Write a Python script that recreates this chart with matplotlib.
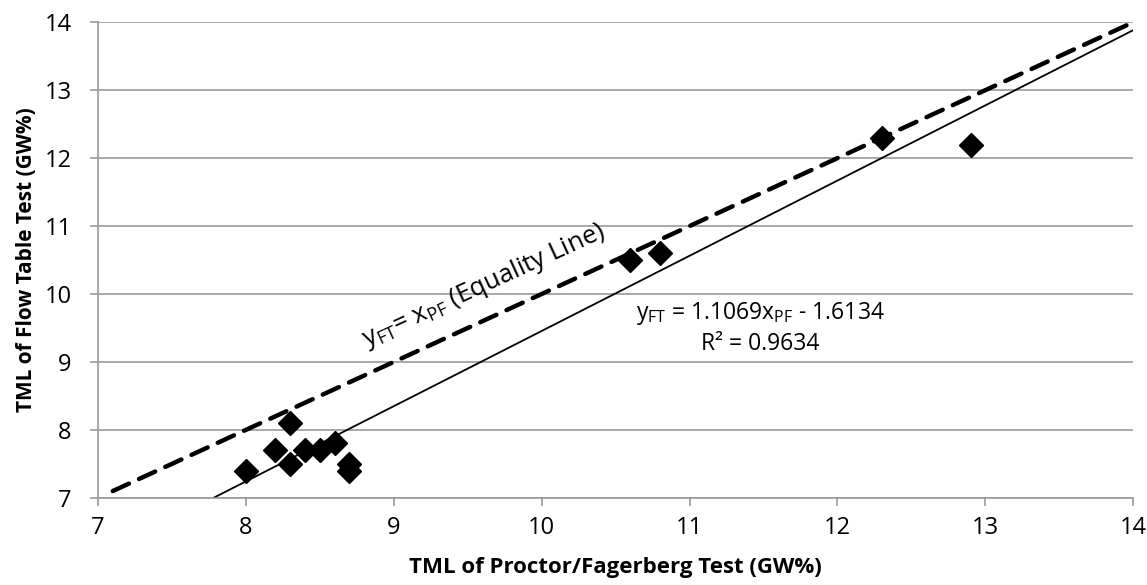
import matplotlib.pyplot as plt
import numpy as np

# TML values: Proctor/Fagerberg (x) vs Flow Table (y)
tml_pf = [8.0, 8.2, 8.3, 8.3, 8.4, 8.5, 8.6, 8.7, 8.7, 10.6, 10.8, 12.3, 12.9]
tml_ft = [7.4, 7.7, 8.1, 7.5, 7.7, 7.7, 7.8, 7.5, 7.4, 10.5, 10.6, 12.3, 12.2]

# linear fit reported on the chart
slope = 1.1069
intercept = -1.6134
r2 = 0.9634

plt.rcParams['font.family'] = ['Open Sans', 'DejaVu Sans']
plt.rcParams['mathtext.fontset'] = 'custom'
plt.rcParams['mathtext.rm'] = 'Open Sans'

fig = plt.figure(figsize=(11.47, 5.85), dpi=100)
ax = fig.add_axes([0.0854, 0.149, 0.9026, 0.813])

# equality line
xe = np.array([7.1, 14.0])
ax.plot(xe, xe, color='black', lw=3.2, ls=(0, (4, 2.5)), dash_capstyle='round', zorder=2)

# trend line
x0 = (7 - intercept) / slope
xt = np.array([x0, 14.0])
ax.plot(xt, slope * xt + intercept, color='black', lw=1.3, zorder=2)

ax.plot(tml_pf, tml_ft, ls='none', marker='D', markersize=12, color='black', zorder=3)

ax.text(9.61, 10.13, r'y$_{\mathregular{FT}}$= x$_{\mathregular{PF}}$ (Equality Line)',
        fontsize=18.5, rotation=24.7, ha='center', va='center')
ax.text(11.48, 9.5, 'y$_{\\mathregular{FT}}$ = %.4fx$_{\\mathregular{PF}}$ - %.4f\nR² = %.4f'
        % (slope, -intercept, r2), fontsize=16.5, ha='center', va='center', linespacing=1.25)

ax.set_xlim(7, 14)
ax.set_ylim(7, 14)
ax.set_xticks(range(7, 15))
ax.set_yticks(range(7, 15))
ax.grid(axis='y', color='#999999', lw=1.2)
ax.set_axisbelow(True)
for s in ['top', 'right']:
    ax.spines[s].set_visible(False)
for s in ['left', 'bottom']:
    ax.spines[s].set_color('#999999')
    ax.spines[s].set_linewidth(1.2)
ax.tick_params(colors='#999999', length=6, width=1.2, labelcolor='black', labelsize=17)
ax.tick_params(axis='x', pad=7)
ax.tick_params(axis='y', pad=13)

ax.set_xlabel('TML of Proctor/Fagerberg Test (GW%)', fontsize=16, fontweight='bold', labelpad=12)
ax.set_ylabel('TML of Flow Table Test (GW%)', fontsize=15, fontweight='bold', labelpad=5)

fig.savefig('out.png', dpi=100)
